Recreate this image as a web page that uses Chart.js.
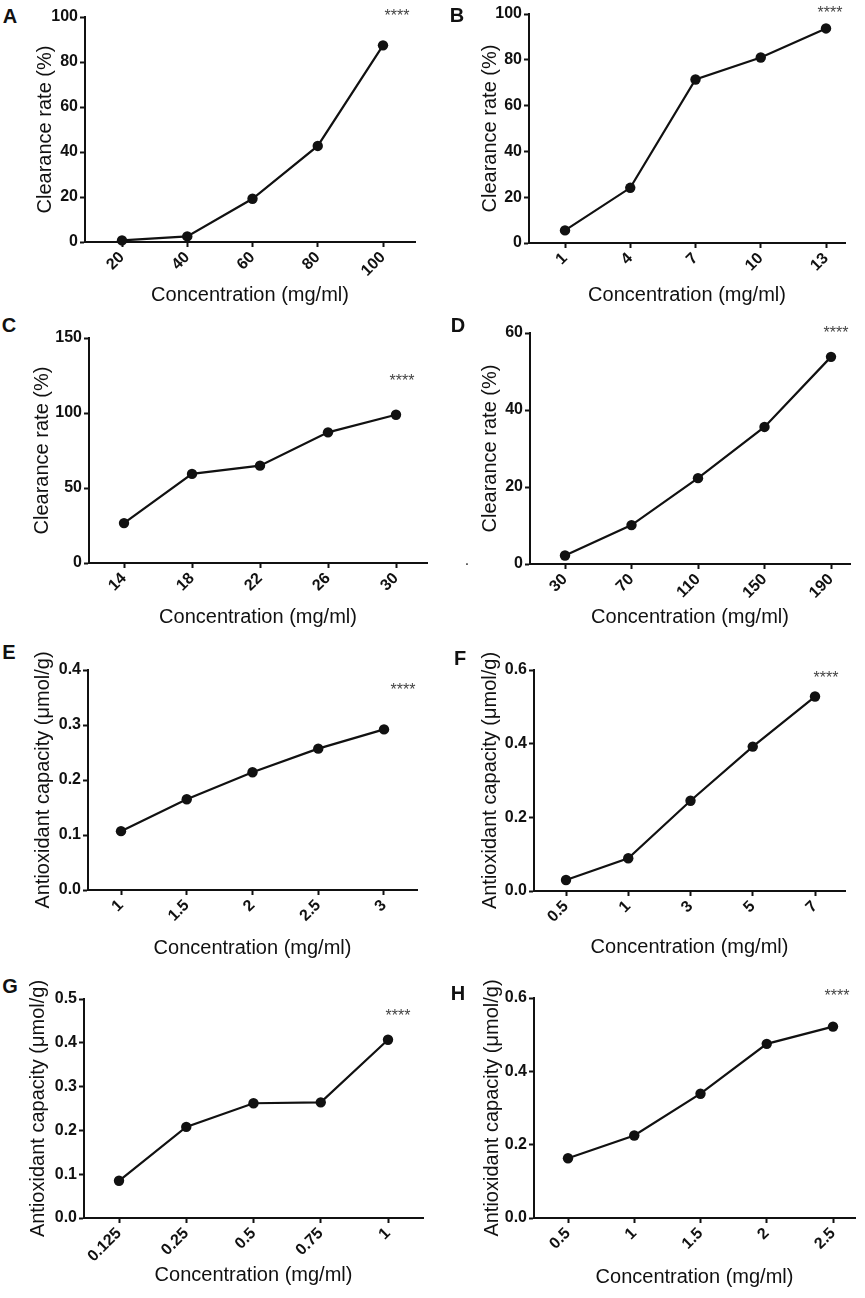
<!DOCTYPE html>
<html><head><meta charset="utf-8">
<script src="https://cdn.jsdelivr.net/npm/chart.js@4.4.1/dist/chart.umd.min.js"></script>
<style>
html,body{margin:0;padding:0;background:#fff;}
#wrap{position:relative;width:865px;height:1298px;overflow:hidden;font-family:"Liberation Sans",Arial,sans-serif;}
canvas{position:absolute;}
.lbl{position:absolute;font-weight:bold;font-size:20px;line-height:1;transform:translate(-50%,-50%);color:#111;}
.ast{position:absolute;font-size:16px;line-height:1;color:#444;transform:translate(-50%,-30%);}
.dot{position:absolute;font-size:16px;line-height:1;color:#333;transform:translate(-50%,-70%);}
</style></head><body><div id="wrap"></div>
<script>
// ---- data ----
const catsA = ['20', '40', '60', '80', '100'];
const valsA = [0.7, 2.5, 19.2, 42.7, 87.4];
const catsB = ['1', '4', '7', '10', '13'];
const valsB = [5.5, 24.1, 71.4, 81.0, 93.7];
const catsC = ['14', '18', '22', '26', '30'];
const valsC = [26.6, 59.4, 64.9, 87.1, 98.8];
const catsD = ['30', '70', '110', '150', '190'];
const valsD = [2.2, 10.1, 22.3, 35.6, 53.8];
const catsE = ['1', '1.5', '2', '2.5', '3'];
const valsE = [0.107, 0.165, 0.214, 0.257, 0.292];
const catsF = ['0.5', '1', '3', '5', '7'];
const valsF = [0.030, 0.089, 0.245, 0.392, 0.528];
const catsG = ['0.125', '0.25', '0.5', '0.75', '1'];
const valsG = [0.085, 0.208, 0.262, 0.264, 0.407];
const catsH = ['0.5', '1', '1.5', '2', '2.5'];
const valsH = [0.163, 0.225, 0.339, 0.475, 0.522];

const yMax = {A: 100, B: 100, C: 150, D: 60, E: 0.4, F: 0.6, G: 0.5, H: 0.6};
const yStep = {A: 20, B: 20, C: 50, D: 20, E: 0.1, F: 0.2, G: 0.1, H: 0.2};
const yDecimals = {A: 0, B: 0, C: 0, D: 0, E: 1, F: 1, G: 1, H: 1};

const titleClearance = 'Clearance rate (%)';
const titleAntiox = 'Antioxidant capacity (μmol/g)';
const titleX = 'Concentration (mg/ml)';
const significance = '****';

// ---- layout (pixel geometry of each panel) ----
const layoutCfg = {
  A: {L: 85, R: 415, T: 17, B: 242, t0: 122, t4: 383, yT: 45, xT: 295, lx: 10, ly: 16, ax: 397, ay: 13},
  B: {L: 529, R: 845, T: 14, B: 243, t0: 565, t4: 826, yT: 490, xT: 295, lx: 457, ly: 15, ax: 830, ay: 10},
  C: {L: 89, R: 427, T: 338, B: 563, t0: 124, t4: 396, yT: 42, xT: 617, lx: 9, ly: 325, ax: 402, ay: 378},
  D: {L: 530, R: 850, T: 333, B: 564, t0: 565, t4: 831, yT: 490, xT: 617, lx: 458, ly: 325, ax: 836, ay: 330},
  E: {L: 88, R: 417, T: 670, B: 890, t0: 121, t4: 384, yT: 43, xT: 948, lx: 9, ly: 652, ax: 403, ay: 687},
  F: {L: 534, R: 845, T: 670, B: 891, t0: 566, t4: 815, yT: 490, xT: 947, lx: 460, ly: 658, ax: 826, ay: 675},
  G: {L: 84, R: 423, T: 999, B: 1218, t0: 119, t4: 388, yT: 38, xT: 1275, lx: 10, ly: 986, ax: 398, ay: 1013},
  H: {L: 534, R: 855, T: 998, B: 1218, t0: 568, t4: 833, yT: 492, xT: 1277, lx: 458, ly: 993, ax: 837, ay: 993}
};

const panels = [
  {id: 'A', cats: catsA, vals: valsA, yTitle: titleClearance},
  {id: 'B', cats: catsB, vals: valsB, yTitle: titleClearance},
  {id: 'C', cats: catsC, vals: valsC, yTitle: titleClearance},
  {id: 'D', cats: catsD, vals: valsD, yTitle: titleClearance},
  {id: 'E', cats: catsE, vals: valsE, yTitle: titleAntiox},
  {id: 'F', cats: catsF, vals: valsF, yTitle: titleAntiox},
  {id: 'G', cats: catsG, vals: valsG, yTitle: titleAntiox},
  {id: 'H', cats: catsH, vals: valsH, yTitle: titleAntiox}
];

const FAMILY = '"Liberation Sans", Arial, sans-serif';
const INK = '#111';
const wrap = document.getElementById('wrap');

function addText(cls, text, x, y) {
  const d = document.createElement('div');
  d.className = cls;
  d.textContent = text;
  d.style.left = x + 'px';
  d.style.top = y + 'px';
  wrap.appendChild(d);
}

function makePanel(panel) {
  const p = layoutCfg[panel.id];
  const cx = Math.round(p.yT - 12);
  const cy = Math.round(p.T - 22);
  const cr = Math.round(p.R + 8);
  const cb = Math.round(p.xT + 12);
  const w = cr - cx, h = cb - cy;
  const canvas = document.createElement('canvas');
  canvas.width = w; canvas.height = h;
  canvas.style.left = cx + 'px'; canvas.style.top = cy + 'px';
  canvas.style.width = w + 'px'; canvas.style.height = h + 'px';
  wrap.appendChild(canvas);
  const s = (p.t4 - p.t0) / (panel.cats.length - 1);
  const tickFont = {family: FAMILY, size: 16, weight: 'bold'};
  const titleFont = {family: FAMILY, size: 20, weight: 'normal'};
  const gridCfg = {drawOnChartArea: false, drawTicks: true, tickLength: 5, tickWidth: 2, tickColor: INK};
  const borderCfg = {display: true, width: 2, color: INK};
  new Chart(canvas, {
    type: 'line',
    data: {
      datasets: [{
        data: panel.vals.map((v, i) => ({x: i, y: v})),
        borderColor: INK, borderWidth: 2.2, tension: 0,
        pointRadius: 5.2, pointBackgroundColor: INK, pointBorderWidth: 0,
        clip: false
      }]
    },
    options: {
      responsive: false, animation: false, devicePixelRatio: 1,
      layout: {padding: {left: 0, top: p.T - cy, right: cr - p.R, bottom: 0}},
      plugins: {legend: {display: false}, tooltip: {enabled: false}},
      scales: {
        x: {
          type: 'linear', bounds: 'data',
          min: -(p.t0 - p.L) / s,
          max: (panel.cats.length - 1) + (p.R - p.t4) / s,
          afterBuildTicks: sc => { sc.ticks = panel.cats.map((c, i) => ({value: i})); },
          afterFit: sc => { sc.height = cb - p.B; },
          ticks: {
            callback: (v, i) => panel.cats[i],
            minRotation: 45, maxRotation: 45, autoSkip: false, padding: 1,
            font: tickFont, color: INK
          },
          grid: gridCfg, border: borderCfg,
          title: {display: true, text: titleX, font: titleFont, color: INK, padding: 0}
        },
        y: {
          type: 'linear', min: 0, max: yMax[panel.id],
          afterFit: sc => { sc.width = p.L - cx; },
          ticks: {
            stepSize: yStep[panel.id],
            callback: v => Number(v).toFixed(yDecimals[panel.id]),
            padding: 2, font: tickFont, color: INK
          },
          grid: gridCfg, border: borderCfg,
          title: {display: true, text: panel.yTitle, font: titleFont, color: INK, padding: 0}
        }
      }
    }
  });
  addText('lbl', panel.id, p.lx, p.ly);
  addText('ast', significance, p.ax, p.ay);
}

panels.forEach(makePanel);
addText('dot', '.', 467, 563);
</script>
</body></html>
